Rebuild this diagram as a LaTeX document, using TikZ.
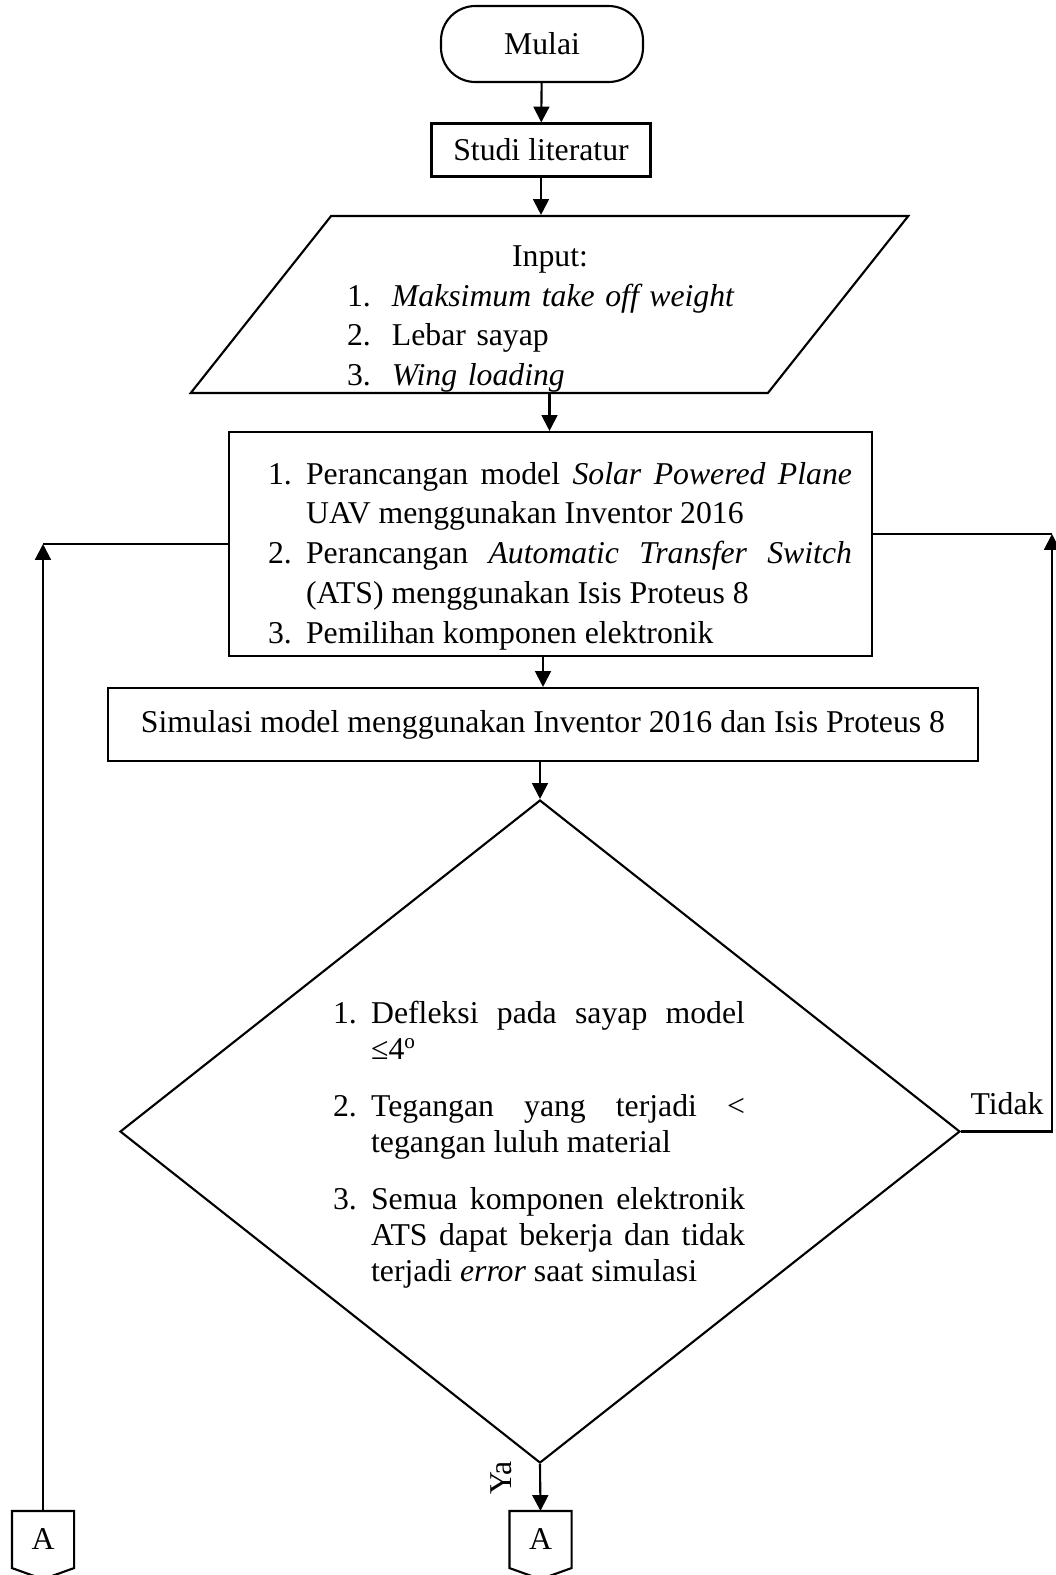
\documentclass[tikz,border=0pt]{standalone}
\usepackage{fontspec}
\setmainfont{Liberation Serif}
\usetikzlibrary{shapes.geometric,arrows.meta}
\newcommand{\px}{0.378pt}
\newcommand{\litem}[3][14.4pt]{\noindent\hangindent=#1\hangafter=1\makebox[#1][l]{#2}#3\par}
\begin{document}
\begin{tikzpicture}[x=\px, y=-\px, line width=0.8pt, line join=miter,
    font=\fontsize{12}{15}\selectfont,
    box/.style={draw, rectangle, inner sep=0pt},
    arr/.style={-{Triangle[length=6pt,width=6pt]}}]
    \useasboundingbox (0,0) rectangle (1056,1575);
    % Mulai
    \node[box, rounded corners=13pt, minimum width=202*\px, minimum height=76*\px] (mulai) at (542,44) {Mulai};
    % Studi literatur
    \node[box, minimum width=219*\px, minimum height=53*\px] (studi) at (541,150) {Studi literatur};
    % Input
    \node[draw, trapezium, trapezium left angle=48.5, trapezium right angle=131.5,
        trapezium stretches=true, inner sep=0pt,
        minimum width=719*\px, minimum height=177*\px] (inp) at (549.5,304.5) {\phantom{Input:}};
    \node[text width=406*\px, align=left, inner sep=0pt] (inptxt) at (550,319)
        {\centering Input:\par\raggedright
         \litem[17pt]{1.}{\textit{Maksimum take off weight}}
         \litem[17pt]{2.}{Lebar sayap}
         \litem[17pt]{3.}{\textit{Wing loading}}};
    % Perancangan
    \node[box, minimum width=643*\px, minimum height=224*\px] (desain) at (550.5,544) {};
    \node[text width=584*\px, align=justify, inner sep=0pt] (desaintxt) at (560,556)
        {\litem{1.}{Perancangan model \textit{Solar Powered Plane}\linebreak UAV menggunakan Inventor 2016}
         \litem{2.}{Perancangan \textit{Automatic Transfer Switch}\linebreak (ATS) menggunakan Isis Proteus 8}
         \litem{3.}{Pemilihan komponen elektronik}};
    % Simulasi
    \node[box, minimum width=870*\px, minimum height=73*\px] (simul) at (543,724.5)
        {Simulasi model menggunakan Inventor 2016 dan Isis Proteus 8};
    % Keputusan
    \node[draw, diamond, inner sep=0pt, minimum width=840*\px, minimum height=663*\px] (cek) at (540,1131.5) {};
    \node[text width=412*\px, align=justify, font=\fontsize{12}{13.6}\selectfont] (cektxt) at (539,1145)
        {\setlength{\parskip}{8pt}\hyphenpenalty=10000
         \litem{1.}{Defleksi pada sayap model\linebreak ≤4\textsuperscript{o}}
         \litem{2.}{Tegangan yang terjadi <\linebreak tegangan luluh material}
         \litem{3.}{Semua komponen elektronik\linebreak ATS dapat bekerja dan tidak\linebreak terjadi \textit{error} saat simulasi}};
    % Penghubung A
    \node[inner sep=0pt, minimum width=60*\px, minimum height=55*\px] (conL) at (43,1539.5) {A};
    \node[inner sep=0pt, minimum width=60*\px, minimum height=55*\px] (conC) at (540.5,1539.5) {A};
    \foreach \c in {conL,conC}
        \draw (\c.south west) -- (\c.north west) -- (\c.north east) -- (\c.south east)
            -- ([yshift=-4.2pt]\c.south) -- cycle;
    % Etichette
    \node[anchor=base, inner sep=0pt] (tidak) at (1007,1114) {Tidak};
    \node[rotate=90, inner sep=0pt] (ya) at (501,1478) {Ya};
    % Frecce
    \draw[arr] (mulai) -- (studi);
    \draw[arr] (studi.south) -- (studi.south |- inp.north);
    \draw[arr] (inp.south) -- (inp.south |- desain.north);
    \draw[arr] (simul.north |- desain.south) -- (simul.north);
    \draw[arr] (cek.north |- simul.south) -- (cek.north);
    \draw[arr] (cek.south) -- (conC.north);
    % Ritorno a destra
    \coordinate (rc) at (1052,534);
    \draw[arr] (cek.east) -| (rc);
    \draw (rc) -- (desain.east |- rc);
    % Ritorno a sinistra
    \coordinate (lc) at (conL.north |- desain.west);
    \draw[arr] (conL.north) -- (lc);
    \draw (lc) -- (desain.west);
\end{tikzpicture}
\end{document}
